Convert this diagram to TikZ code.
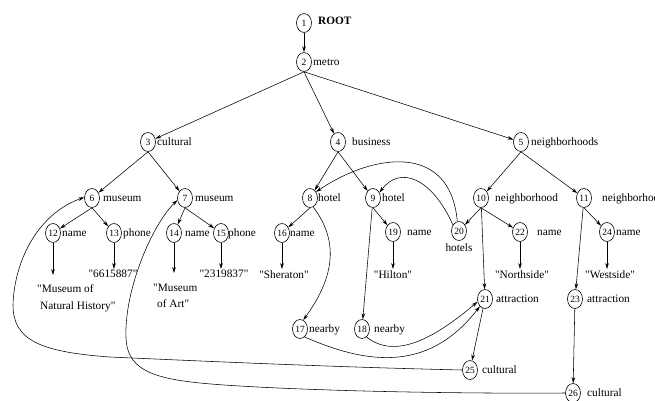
\documentclass[tikz,border=0pt]{standalone}
\usepackage{fontspec}
\setmainfont[Ligatures=TeXOff]{Liberation Serif}
\usetikzlibrary{arrows.meta,shapes.geometric,calc}
\tikzset{
  obj/.style={ellipse, draw, line width=0.6pt, minimum width=15pt, minimum height=19pt,
              inner sep=0pt, font=\fontsize{9.5}{11}\selectfont},
  lab/.style={anchor=base west, inner sep=0pt, font=\fontsize{11.3}{13}\selectfont},
  val/.style={anchor=north, inner sep=1pt, font=\fontsize{11.3}{13}\selectfont},
  edge/.style={-{Stealth[length=6pt,width=3.6pt]}, line width=0.55pt},
}
\begin{document}
\begin{tikzpicture}[x=1pt,y=-1pt]
\useasboundingbox (0,0) rectangle (655,401);
\clip (0,0) rectangle (655,401);

% object nodes
\node[obj] (n1)  at (304,23)  {1};
\node[obj] (n2)  at (304,62)  {2};
\node[obj] (n3)  at (148,142) {3};
\node[obj] (n4)  at (338,142) {4};
\node[obj] (n5)  at (521,142) {5};
\node[obj] (n6)  at (92,198)  {6};
\node[obj] (n7)  at (185,198) {7};
\node[obj] (n8)  at (310,198) {8};
\node[obj] (n9)  at (373,198) {9};
\node[obj] (n10) at (481,198) {10};
\node[obj] (n11) at (584,198) {11};
\node[obj] (n12) at (53,233)  {12};
\node[obj] (n13) at (114,233) {13};
\node[obj] (n14) at (174,233) {14};
\node[obj] (n15) at (221,233) {15};
\node[obj] (n16) at (282,233) {16};
\node[obj] (n19) at (393,232) {19};
\node[obj] (n20) at (459,231) {20};
\node[obj] (n22) at (520,232) {22};
\node[obj] (n24) at (607,232) {24};
\node[obj] (n21) at (485,299) {21};
\node[obj] (n23) at (575,299) {23};
\node[obj] (n17) at (300,329) {17};
\node[obj] (n18) at (362,329) {18};
\node[obj] (n25) at (470,370) {25};
\node[obj] (n26) at (573,393) {26};

% edge labels beside the objects
\node[lab] (l1)  at (318,25)    {\bfseries ROOT};
\node[lab] (l2)  at (313,66)    {metro};
\node[lab] (l3)  at (157,145.5) {cultural};
\node[lab] (l4)  at (352,145.5) {business};
\node[lab] (l5)  at (531,145.5) {neighborhoods};
\node[lab] (l6)  at (103,201.5) {museum};
\node[lab] (l7)  at (195,201.5) {museum};
\node[lab] (l8)  at (318,201.5) {hotel};
\node[lab] (l9)  at (382,201.5) {hotel};
\node[lab] (l10) at (495,201.5) {neighborhood};
\node[lab] (l11) at (602,201.5) {neighborhood};
\node[lab] (l12) at (62,236.5)  {name};
\node[lab] (l13) at (123,236.5) {phone};
\node[lab] (l14) at (185,236.5) {name};
\node[lab] (l15) at (228,236.5) {phone};
\node[lab] (l16) at (290,236.5) {name};
\node[lab] (l19) at (407,235.5) {name};
\node[lab, anchor=base] (l20) at (459,251) {hotels};
\node[lab] (l22) at (537,235.5) {name};
\node[lab] (l24) at (616,235.5) {name};
\node[lab] (l21) at (496,302.5) {attraction};
\node[lab] (l23) at (587,302.5) {attraction};
\node[lab] (l17) at (309,332.5) {nearby};
\node[lab] (l18) at (374,332.5) {nearby};
\node[lab] (l25) at (482,373.5) {cultural};
\node[lab] (l26) at (587,396.5) {cultural};

% atomic values
\node[val, anchor=north west, align=left] (v12) at (36,283)
  {"Museum of\\[4pt]\hspace*{3pt}Natural History"};
\node[val] (v13) at (113,269) {"6615887"};
\node[val, anchor=north west, align=left] (v14) at (152,283)
  {"Museum\\[3pt]\hspace*{4pt}of Art"};
\node[val] (v15) at (224,269) {"2319837"};
\node[val] (v16) at (284,269) {"Sheraton"};
\node[val] (v19) at (393,269) {"Hilton"};
\node[val] (v22) at (522,269) {"Northside"};
\node[val] (v24) at (610,269) {"Westside"};

% tree edges
\draw[edge] (n1) -- (n2);
\foreach \p/\c in {n2/n3, n2/n4, n2/n5, n3/n6, n3/n7, n4/n8, n4/n9, n5/n10, n5/n11,
                   n6/n12, n6/n13, n7/n14, n7/n15, n8/n16, n9/n19, n10/n20, n10/n22,
                   n11/n24}
  \draw[edge] (\p.south) -- (\c);
\draw[edge] (n10) -- (n21);
\draw[edge] (n11) -- (n23);
\draw[edge] (n9) -- (n18);
\draw[edge] (n21) -- (n25);
\draw[edge] (n23) -- (n26);

% edges to atomic values
\draw[edge] (n12) -- ($(n12 |- v12.north)+(0,-8)$);
\draw[edge] (n13) -- (n13 |- v13.north);
\draw[edge] (n14) -- ($(n14 |- v14.north)+(0,-10)$);
\draw[edge] (n15) -- (n15 |- v15.north);
\draw[edge] (n16) -- (n16 |- v16.north);
\draw[edge] (n19) -- (n19 |- v19.north);
\draw[edge] (n22) -- (n22 |- v22.north);
\draw[edge] (n24) -- (n24 |- v24.north);

% cross references
\draw[edge] (n20.100) .. controls (450,140) and (370,155) .. (n8.45);
\draw[edge] (n20.135) .. controls (432,178) and (400,165) .. (n9.40);
\draw[edge] (n8.-70) .. controls (338,240) and (336,275) .. (n17.70);
\draw[edge] (n17.-60) .. controls (375,368) and (432,368) .. (n21.235);
\draw[edge] (n18.-60) .. controls (395,360) and (435,338) .. (n21.200);
\draw[edge] (n25.west) .. controls (330,367) and (200,361) .. (110,357)
                       .. controls (40,352) and (13,340) .. (13,305)
                       .. controls (14,265) and (35,215) .. (n6.175);
\draw[edge] (n26.west) .. controls (420,394) and (260,389) .. (200,383)
                       .. controls (150,378) and (127,368) .. (126,338)
                       .. controls (124,290) and (152,225) .. (n7.195);
\end{tikzpicture}
\end{document}
